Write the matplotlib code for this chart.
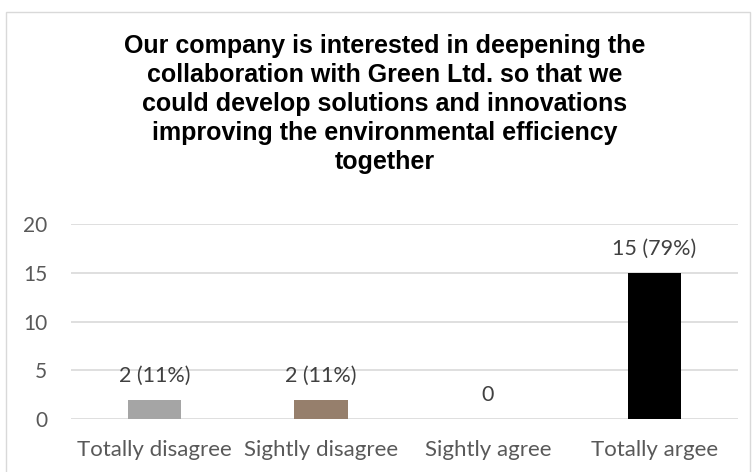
import matplotlib
matplotlib.use("Agg")
import matplotlib.pyplot as plt
from matplotlib.patches import Rectangle

categories = ["Totally disagree", "Sightly disagree", "Sightly agree", "Totally argee"]
counts = [2, 2, 0, 15]
labels = ["2 (11%)", "2 (11%)", "0", "15 (79%)"]
colors = ["#A5A5A5", "#967F6C", "#8FAADC", "#000000"]
yticks = [0, 5, 10, 15, 20]

title = ("Our company is interested in deepening the\n"
         "collaboration with Green Ltd. so that we\n"
         "could develop solutions and innovations\n"
         "improving the environmental efficiency\n"
         "together")

W, H = 755, 472
fig = plt.figure(figsize=(W / 100, H / 100), dpi=100)
fig.patch.set_facecolor("white")

# chart-area border like the spreadsheet frame
fig.patches.append(Rectangle((6 / W, -0.05), 744 / W, 1.05 - 12 / H, transform=fig.transFigure,
                             fill=False, edgecolor="#D9D9D9", lw=1.0))

ax = fig.add_axes([71 / W, 53 / H, 667 / W, 195 / H])
x = range(len(categories))
ax.bar(x, counts, width=0.32, color=colors, zorder=3)
for i, (c, lab) in enumerate(zip(counts, labels)):
    ax.annotate(lab, (i, c), xytext=(0, 17), textcoords="offset points", ha="center", va="center",
                fontsize=15.5, color="#404040", family=["Lato", "DejaVu Sans"])

ax.set_xlim(-0.5, 3.5)
ax.set_ylim(0, 20)
ax.set_yticks(yticks)
ax.set_xticks(list(x))
ax.set_xticklabels(categories)
ax.yaxis.grid(True, color="#D9D9D9", lw=1.2, zorder=0)
ax.set_axisbelow(True)
for s in ax.spines.values():
    s.set_visible(False)
ax.tick_params(length=0, labelcolor="#595959")
ax.tick_params(axis="x", pad=15, labelsize=16)
ax.tick_params(axis="y", pad=17, labelsize=15)
for t in ax.get_xticklabels() + ax.get_yticklabels():
    t.set_family(["Lato", "DejaVu Sans"])

fig.text(385 / W, 1 - 104 / H, title, ha="center", va="center", fontsize=18, fontweight="bold",
         family=["Liberation Sans", "DejaVu Sans"], linespacing=1.25, color="#000000")

fig.savefig("out.png", dpi=100, facecolor="white")
